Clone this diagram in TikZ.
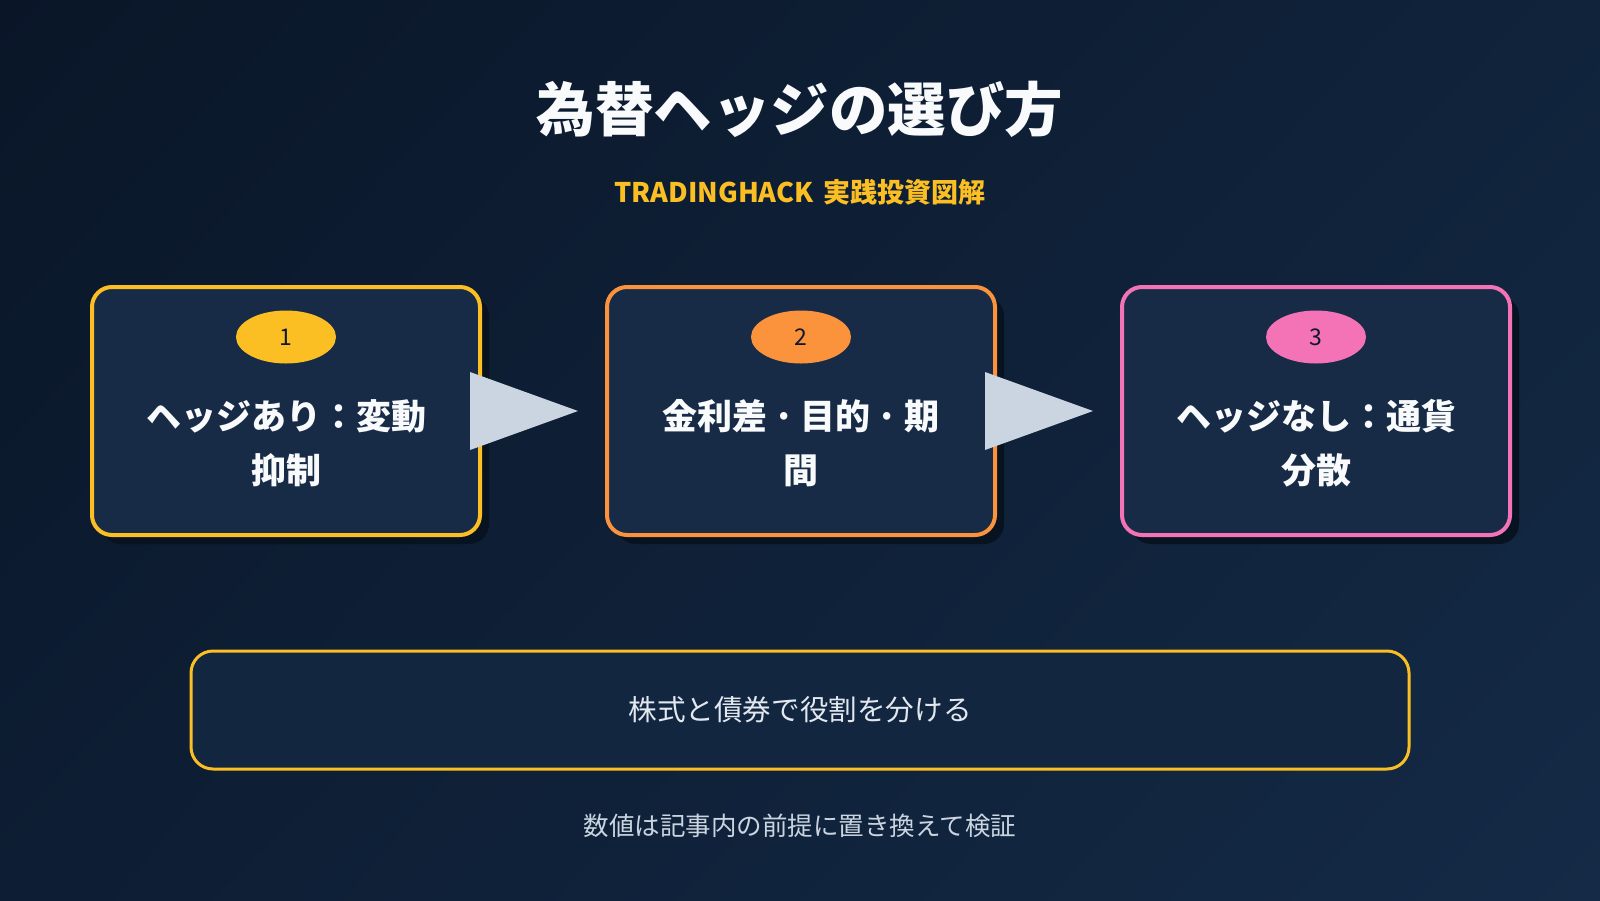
\documentclass[tikz,border=0pt]{standalone}
\usepackage{fontspec}
\setmainfont{Noto Sans CJK JP}
\usetikzlibrary{shapes.geometric,shadows,shadings,calc}
\definecolor{bgA}{HTML}{0A1628}
\definecolor{bgB}{HTML}{10233B}
\definecolor{bgC}{HTML}{0D1D33}
\definecolor{bgD}{HTML}{142A46}
\definecolor{boxfill}{HTML}{172B46}
\definecolor{notefill}{HTML}{132640}
\definecolor{shadowc}{HTML}{08121F}
\definecolor{yel}{HTML}{FBBF24}
\definecolor{ora}{HTML}{FB923C}
\definecolor{pnk}{HTML}{F472B6}
\definecolor{arrowc}{HTML}{CBD5E1}
\definecolor{titlec}{HTML}{F8FAFC}
\definecolor{softc}{HTML}{E2E8F0}
\definecolor{darkc}{HTML}{0F172A}
\newcommand{\mdot}{\hspace{6pt}·\hspace{6pt}}
\tikzset{
  stepbox/.style={rectangle, rounded corners=20pt, minimum width=388pt, minimum height=248pt,
    line width=4pt, fill=boxfill, inner sep=0pt,
    drop shadow={shadow xshift=9pt, shadow yshift=-9pt, fill=shadowc, opacity=0.9}},
  badge/.style={ellipse, minimum width=100pt, minimum height=53pt, inner sep=0pt,
    text=darkc, font=\fontsize{23}{25}\selectfont},
  steptext/.style={text=titlec, align=center, font=\bfseries\fontsize{35}{54}\selectfont},
  arrowtri/.style={fill=arrowc},
}
\begin{document}
\begin{tikzpicture}[x=1pt,y=-1pt]
\useasboundingbox (0,0) rectangle (1600,900);
\shade[upper left=bgA, upper right=bgB, lower left=bgC, lower right=bgD] (0,0) rectangle (1600,900);

\node[text=titlec, font=\bfseries\fontsize{58.5}{62}\selectfont] (title) at (800,109) {為替ヘッジの選び方};
\node[text=yel, font=\bfseries\fontsize{27}{30}\selectfont] (sub) at (800,192) {TRADINGHACK\hspace{10pt}実践投資図解};

\node[stepbox, draw=yel] (b1) at (286,411) {};
\node[stepbox, draw=ora] (b2) at (801,411) {};
\node[stepbox, draw=pnk] (b3) at (1316,411) {};

\node[badge, fill=yel] (n1) at (286,337) {1};
\node[badge, fill=ora] (n2) at (801,337) {2};
\node[badge, fill=pnk] (n3) at (1316,337) {3};

\node[steptext] (t1) at (286,443) {ヘッジあり：変動\\抑制};
\node[steptext] (t2) at (801,443) {金利差\mdot 目的\mdot 期\\間};
\node[steptext] (t3) at (1316,443) {ヘッジなし：通貨\\分散};

\fill[arrowtri] ($(b1.east)+(-12,-39)$) -- ($(b1.east)+(-12,39)$) -- ($(b2.west)+(-27,0)$) -- cycle;
\fill[arrowtri] ($(b2.east)+(-12,-39)$) -- ($(b2.east)+(-12,39)$) -- ($(b3.west)+(-27,0)$) -- cycle;

\node[rectangle, rounded corners=22pt, minimum width=1218pt, minimum height=118pt, draw=yel,
  line width=3pt, fill=notefill, text=softc, font=\fontsize{28.6}{31}\selectfont] (note) at (800,710) {株式と債券で役割を分ける};

\node[text=arrowc, font=\fontsize{25.5}{28}\selectfont] (foot) at (800,826) {数値は記事内の前提に置き換えて検証};
\end{tikzpicture}
\end{document}
